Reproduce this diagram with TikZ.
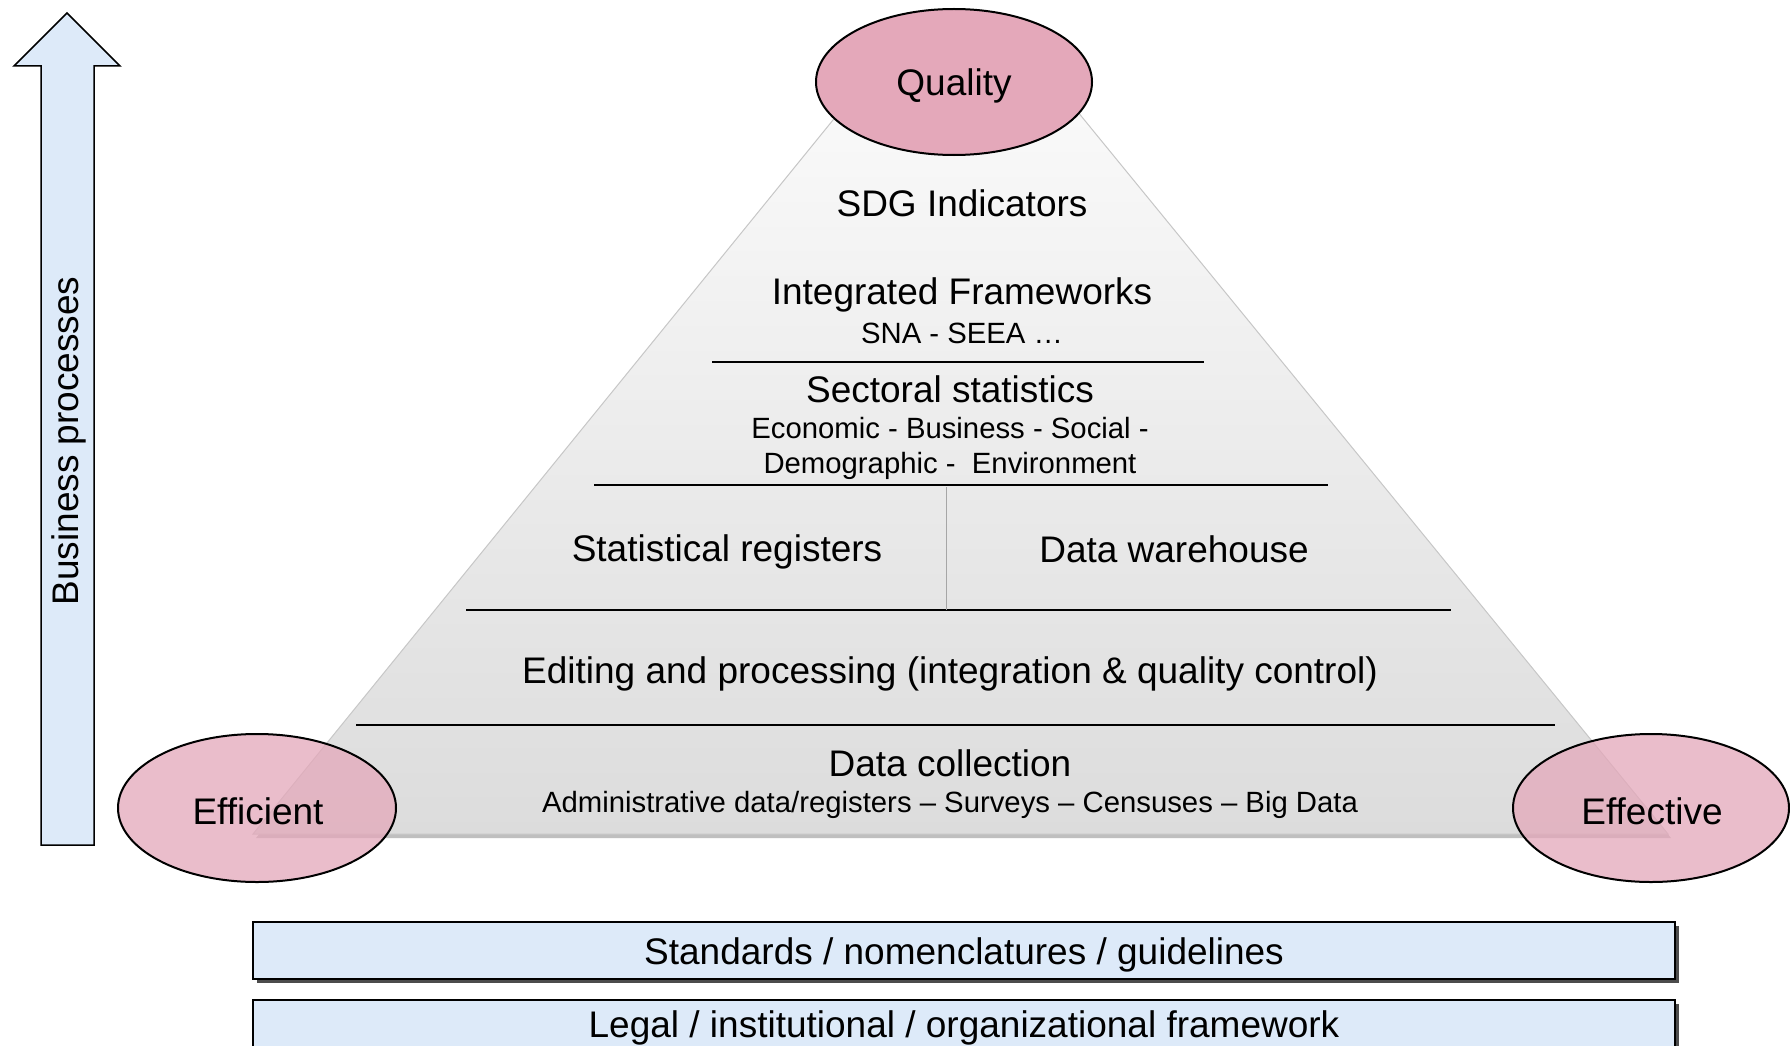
\documentclass[tikz,border=0pt]{standalone}
\usepackage{fontspec}
\setmainfont{Liberation Sans}
\usetikzlibrary{shapes.geometric,shadows}
\definecolor{pinkfill}{HTML}{E4A8BA}
\definecolor{bluefill}{HTML}{DDEAF9}
\definecolor{pyrtop}{HTML}{FCFCFC}
\definecolor{pyrbot}{HTML}{DCDCDC}
\begin{document}
\begin{tikzpicture}[x=1pt,y=-1pt,
  big/.style={font=\fontsize{37}{44}\selectfont, inner sep=0pt},
  small/.style={font=\fontsize{29.3}{35}\selectfont, inner sep=0pt},
  oval/.style={ellipse, draw=black, line width=2pt, fill=pinkfill, inner sep=0pt},
  layerline/.style={line width=2pt, black},
  bar/.style={draw=black, line width=1.5pt, fill=bluefill},
  barshadow/.style={fill=black!70}]
\useasboundingbox (0,0) rectangle (1790,1046);
\fill[white] (0,0) rectangle (1790,1046);

% business process arrow
\draw[fill=bluefill, line width=1.5pt] (41,845) -- (41,66) -- (14,66) -- (67,13) -- (120,66) -- (94,66) -- (94,845) -- cycle;
\node[big, rotate=90] (bp) at (69,441) {Business processes};

% pyramid
\fill[black!25] (256,838) -- (898,43) -- (1021,43) -- (1671,838) -- cycle;
\shade[top color=pyrtop, bottom color=pyrbot, draw=black!22, line width=1pt]
  (253,834) -- (898,40) -- (1019,40) -- (1668,834) -- cycle;

% layer lines
\coordinate (l1a) at (712,362); \coordinate (l1b) at (1204,362);
\coordinate (l2a) at (594,485); \coordinate (l2b) at (1328,485);
\coordinate (l3a) at (466,610); \coordinate (l3b) at (1451,610);
\coordinate (l4a) at (356,725); \coordinate (l4b) at (1555,725);
\coordinate (d1) at (946,487); \coordinate (d2) at (946,610);
\draw[layerline] (l1a) -- (l1b);
\draw[layerline] (l2a) -- (l2b);
\draw[layerline] (l3a) -- (l3b);
\draw[layerline] (l4a) -- (l4b);
\draw[black!35, line width=1pt] (d1) -- (d2);

% layer texts
\node[big] (sdg) at (962,203) {SDG Indicators};
\node[big] (intf) at (962,295) {Integrated Frameworks};
\node[small] (sna) at (962,333) {SNA - SEEA …};
\node[big] (sect) at (950,389) {Sectoral statistics};
\node[small] (econ) at (950,428) {Economic - Business - Social -};
\node[small] (demo) at (950,466) {Demographic -\ \ Environment};
\node[big] (streg) at (727,552) {Statistical registers};
\node[big] (dwh) at (1174,549) {Data warehouse};
\node[big] (edit) at (950,674) {Editing and processing (integration \& quality control)};
\node[big] (coll) at (950,763) {Data collection};
\node[small] (admin) at (950,805) {Administrative data/registers – Surveys – Censuses – Big Data};

% ellipses
\node[oval, minimum width=276pt, minimum height=146pt] (quality) at (954,82) {};
\node[big] (qualityt) at (954,86) {Quality};
\node[oval, fill opacity=0.75, minimum width=278pt, minimum height=148pt] (efficient) at (257,808) {};
\node[big] (efficientt) at (258,811) {Efficient};
\node[oval, fill opacity=0.75, minimum width=276pt, minimum height=148pt] (effective) at (1651,808) {};
\node[big] (effectivet) at (1652,811) {Effective};

% bottom bars
\begin{scope}
\clip (0,0) rectangle (1790,1046);
\fill[barshadow] (257,926) rectangle (1679,983);
\draw[bar] (253,922) rectangle (1675,979);
\fill[barshadow] (257,1004) rectangle (1679,1070);
\draw[bar] (253,1000) rectangle (1675,1066);
\end{scope}
\node[big] (std) at (964,955) {Standards / nomenclatures / guidelines};
\node[big] (legal) at (964,1028) {Legal / institutional / organizational framework};
\end{tikzpicture}
\end{document}
